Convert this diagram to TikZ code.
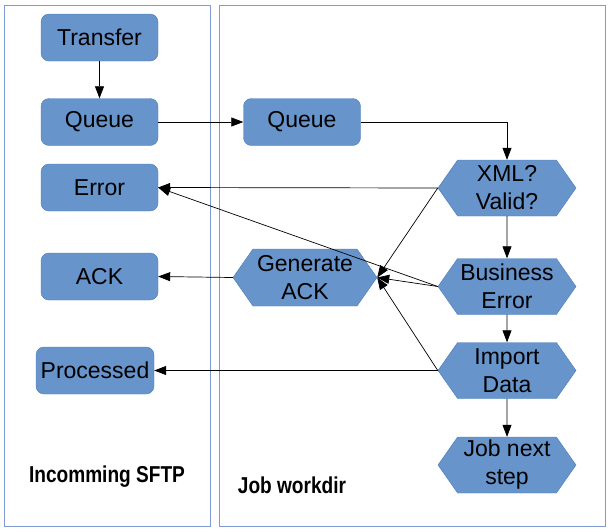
\documentclass[tikz,border=0pt]{standalone}
\usepackage{fontspec}
\setmainfont{Liberation Sans}
\newfontfamily\lanefont[FakeStretch=0.83]{Liberation Sans}
\usepackage{tikz}
\usetikzlibrary{arrows.meta,shapes.symbols}
\definecolor{BoxBlue}{HTML}{6794CA}
\definecolor{BoxEdge}{HTML}{4D7CBA}
\definecolor{LaneBlue}{HTML}{7E9CD3}

\begin{document}
\begin{tikzpicture}[x=1pt, y=-1pt, font=\fontsize{23}{28}\selectfont,
  box/.style={draw=BoxEdge, fill=BoxBlue, rounded corners=8pt, minimum width=117pt,
              minimum height=47pt, inner sep=0pt},
  hexa/.style={draw=BoxEdge, fill=BoxBlue, signal, signal to=west and east,
               signal pointer angle=110, minimum width=138pt, minimum height=56pt,
               inner sep=0pt, align=center},
  lane/.style={draw=LaneBlue, line width=0.8pt},
  ar/.style={-{Triangle[length=12pt,width=9pt]}, line width=0.7pt},
  lbl/.style={font=\lanefont\fontsize{23}{26}\selectfont\bfseries}]
\useasboundingbox (0,0) rectangle (610,531);
% lanes
\draw[lane] (4,5) rectangle (210,526);
\draw[lane] (219,5) rectangle (605,526);
\node[lbl] (sftp) at (107,477) {Incomming SFTP};
\node[lbl] (workdir) at (292,485) {Job workdir};

% incoming SFTP folders
\node[box] (transfer) at (99.5,37.5) {Transfer};
\node[box] (queueA) at (99.5,122) {Queue};
\node[box] (error) at (99.5,187.5) {Error};
\node[box] (ack) at (99.5,276.5) {ACK};
\node[box, minimum width=118pt] (processed) at (95,370.5) {Processed};

% job steps
\node[box] (queueB) at (302,122) {Queue};
\node[hexa] (xml) at (507,188) {XML?\\Valid?};
\node[hexa] (buserr) at (507,286.5) {Business\\Error};
\node[hexa] (import) at (507,370.5) {Import\\Data};
\node[hexa] (next) at (507,465) {Job next\\step};
\node[hexa, minimum width=144pt, minimum height=57pt] (genack) at (305,277.5) {Generate\\ACK};

\draw[ar] (transfer) -- (queueA);
\draw[ar] (queueA) -- (queueB);
\draw[ar] (queueB) -| (xml);
\draw[ar] (xml) -- (buserr); \draw[ar] (buserr) -- (import); \draw[ar] (import) -- (next);
\draw[ar] (xml.west) -- (error.east);
\draw[ar] (buserr.west) -- (error.east);
\draw[ar] (xml.west) -- (genack.east);
\draw[ar] (buserr.west) -- (genack.east);
\draw[ar] (import.west) -- (genack.east);
\draw[ar] (genack.west) -- (ack.east);
\draw[ar] (import.west) -- (processed.east);
\end{tikzpicture}
\end{document}
